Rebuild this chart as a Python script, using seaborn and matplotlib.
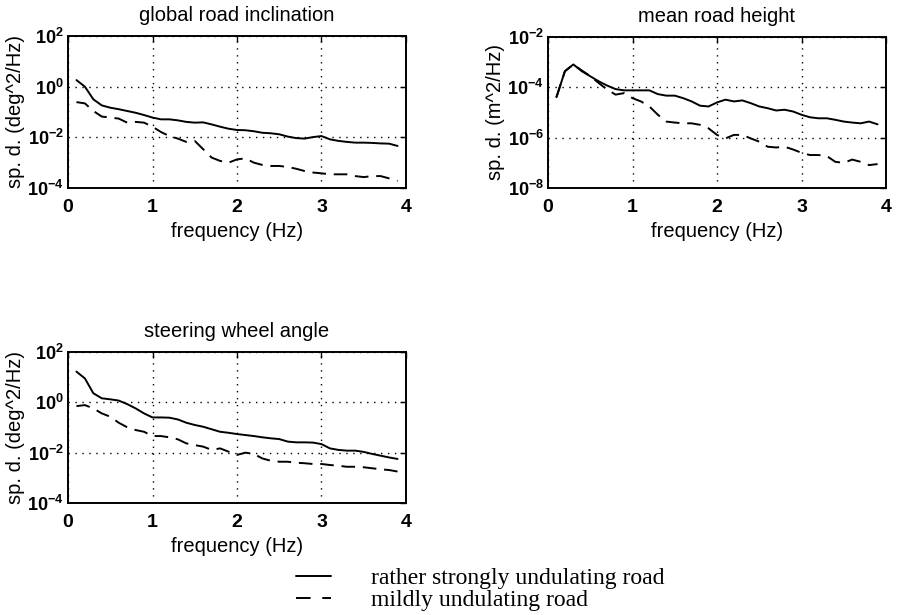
import numpy as np
import pandas as pd
import matplotlib
matplotlib.use("Agg")
import matplotlib.pyplot as plt
import seaborn as sns
from matplotlib.lines import Line2D
from matplotlib.ticker import FixedLocator, NullLocator

# ---------------- data (log10 of spectral density) ----------------
freq = [0.1, 0.2, 0.3, 0.4, 0.5, 0.6, 0.7, 0.8, 0.9, 1.0,
        1.1, 1.2, 1.3, 1.4, 1.5, 1.6, 1.7, 1.8, 1.9, 2.0,
        2.1, 2.2, 2.3, 2.4, 2.5, 2.6, 2.7, 2.8, 2.9, 3.0,
        3.1, 3.2, 3.3, 3.4, 3.5, 3.6, 3.7, 3.8, 3.9]

incl_strong_log10 = [0.26, 0.00, -0.50, -0.74, -0.83, -0.89, -0.96, -1.03, -1.12, -1.22,
                     -1.29, -1.29, -1.33, -1.39, -1.42, -1.41, -1.49, -1.58, -1.66, -1.71,
                     -1.72, -1.76, -1.82, -1.84, -1.88, -1.97, -2.03, -2.05, -1.99, -1.95,
                     -2.08, -2.14, -2.18, -2.21, -2.21, -2.22, -2.24, -2.25, -2.34]
incl_mild_log10 = [-0.61, -0.66, -0.96, -1.18, -1.22, -1.26, -1.42, -1.39, -1.42, -1.58,
                   -1.79, -1.95, -2.05, -2.18, -2.14, -2.47, -2.80, -2.93, -3.00, -2.87,
                   -2.83, -3.00, -3.09, -3.13, -3.13, -3.17, -3.24, -3.33, -3.39, -3.42,
                   -3.46, -3.46, -3.46, -3.53, -3.57, -3.53, -3.53, -3.62, -3.72]

height_strong_log10 = [-4.39, -3.36, -3.09, -3.36, -3.56, -3.76, -3.93, -4.07, -4.12, -4.12,
                       -4.12, -4.12, -4.27, -4.33, -4.33, -4.43, -4.56, -4.73, -4.76, -4.60,
                       -4.49, -4.56, -4.52, -4.63, -4.76, -4.83, -4.92, -4.89, -4.96, -5.09,
                       -5.19, -5.23, -5.23, -5.29, -5.36, -5.40, -5.43, -5.36, -5.47]
height_mild_log10 = [-4.39, -3.36, -3.09, -3.33, -3.55, -3.83, -4.09, -4.29, -4.23, -4.43,
                     -4.56, -4.76, -5.09, -5.36, -5.40, -5.43, -5.43, -5.49, -5.63, -5.89,
                     -6.03, -5.89, -5.89, -6.03, -6.16, -6.36, -6.39, -6.36, -6.47, -6.60,
                     -6.69, -6.69, -6.73, -6.96, -7.00, -6.87, -6.96, -7.09, -7.05]

steer_strong_log10 = [1.22, 0.95, 0.36, 0.16, 0.12, 0.07, -0.07, -0.24, -0.44, -0.60,
                      -0.60, -0.61, -0.68, -0.81, -0.90, -0.97, -1.07, -1.17, -1.21, -1.26,
                      -1.30, -1.34, -1.39, -1.43, -1.46, -1.56, -1.59, -1.59, -1.60, -1.66,
                      -1.83, -1.89, -1.92, -1.92, -1.97, -2.05, -2.12, -2.19, -2.25]
steer_mild_log10 = [-0.15, -0.11, -0.24, -0.44, -0.57, -0.81, -0.99, -1.10, -1.17, -1.34,
                    -1.34, -1.39, -1.47, -1.63, -1.70, -1.76, -1.89, -1.83, -1.96, -2.09,
                    -2.00, -2.05, -2.23, -2.32, -2.36, -2.36, -2.40, -2.42, -2.45, -2.45,
                    -2.49, -2.52, -2.56, -2.56, -2.58, -2.62, -2.66, -2.69, -2.75]

titles = ["global road inclination", "mean road height", "steering wheel angle"]
ylabels = ["sp. d. (deg^2/Hz)", "sp. d. (m^2/Hz)", "sp. d. (deg^2/Hz)"]
xlabel = "frequency (Hz)"
xticks = [0, 1, 2, 3, 4]
yticks_deg_exp = [-4, -2, 0, 2]
yticks_m_exp = [-8, -6, -4, -2]
road_labels = ["rather strongly undulating road", "mildly undulating road"]

# ---------------- styling ----------------
sns.set_theme(style="white")
plt.rcParams.update({
    "font.family": ["Liberation Sans", "DejaVu Sans"],
    "mathtext.fontset": "custom",
    "mathtext.rm": "Liberation Sans:bold",
    "mathtext.bf": "Liberation Sans:bold",
    "mathtext.it": "Liberation Sans:bold",
    "axes.edgecolor": "black",
    "axes.linewidth": 1.4,
    "text.color": "black",
    "axes.labelcolor": "black",
    "xtick.color": "black",
    "ytick.color": "black",
})

fig = plt.figure(figsize=(8.98, 6.15), dpi=100)
W, H = 898.0, 615.0


def add_axes(left, top, right, bottom):
    return fig.add_axes([left / W, 1 - bottom / H, (right - left) / W, (bottom - top) / H])


ax1 = add_axes(68, 36, 406, 188)
ax2 = add_axes(548, 37, 886, 188)
ax3 = add_axes(68, 352, 406, 503)

panels = [
    (ax1, incl_strong_log10, incl_mild_log10, yticks_deg_exp),
    (ax2, height_strong_log10, height_mild_log10, yticks_m_exp),
    (ax3, steer_strong_log10, steer_mild_log10, yticks_deg_exp),
]

for i, (ax, strong, mild, yexp) in enumerate(panels):
    df = pd.DataFrame({
        "freq": freq + freq,
        "psd": list(10.0 ** np.array(strong)) + list(10.0 ** np.array(mild)),
        "road": [road_labels[0]] * len(freq) + [road_labels[1]] * len(freq),
    })
    sns.lineplot(data=df, x="freq", y="psd", style="road",
                 dashes={road_labels[0]: "", road_labels[1]: (7, 4)},
                 color="black", linewidth=1.4, ax=ax, legend=False)
    ax.set_yscale("log")
    yt = [10.0 ** e for e in yexp]
    ax.set_xlim(xticks[0], xticks[-1])
    ax.set_ylim(yt[0], yt[-1])
    ax.xaxis.set_major_locator(FixedLocator(xticks))
    ax.set_yticks(yt, labels=[r"$\mathbf{10^{%d}}$" % e for e in yexp])
    ax.yaxis.set_minor_locator(NullLocator())
    ax.grid(True, which="major", linestyle=(0, (1, 4)), color="black", linewidth=1.0)
    ax.tick_params(axis="both", which="major", direction="in", length=4, width=1,
                   top=True, right=True)
    ax.tick_params(axis="x", labelsize=14, pad=8)
    ax.tick_params(axis="y", labelsize=13, pad=3)
    for lab in ax.get_xticklabels():
        lab.set_fontweight("bold")
    ax.set_title(titles[i], fontsize=14.5, pad=11)
    ax.set_xlabel(xlabel, fontsize=14.5, labelpad=4)
    ax.set_ylabel(ylabels[i], fontsize=14.5)
    ax.yaxis.set_label_coords(-0.128, 0.5)
    for sp in ax.spines.values():
        sp.set_visible(True)
        sp.set_color("black")

handles = [Line2D([], [], color="black", linewidth=1.4, linestyle="-"),
           Line2D([], [], color="black", linewidth=1.4, linestyle=(0, (7.5, 6)))]
fig.legend(handles, road_labels, loc="upper left", bbox_to_anchor=(277 / W, 1 - 549 / H),
           frameon=False, handlelength=1.5, handletextpad=1.7, labelspacing=0.0,
           borderpad=0.3, prop={"family": ["Liberation Serif"], "size": 17})

fig.savefig("out.png", dpi=100, facecolor="white")
